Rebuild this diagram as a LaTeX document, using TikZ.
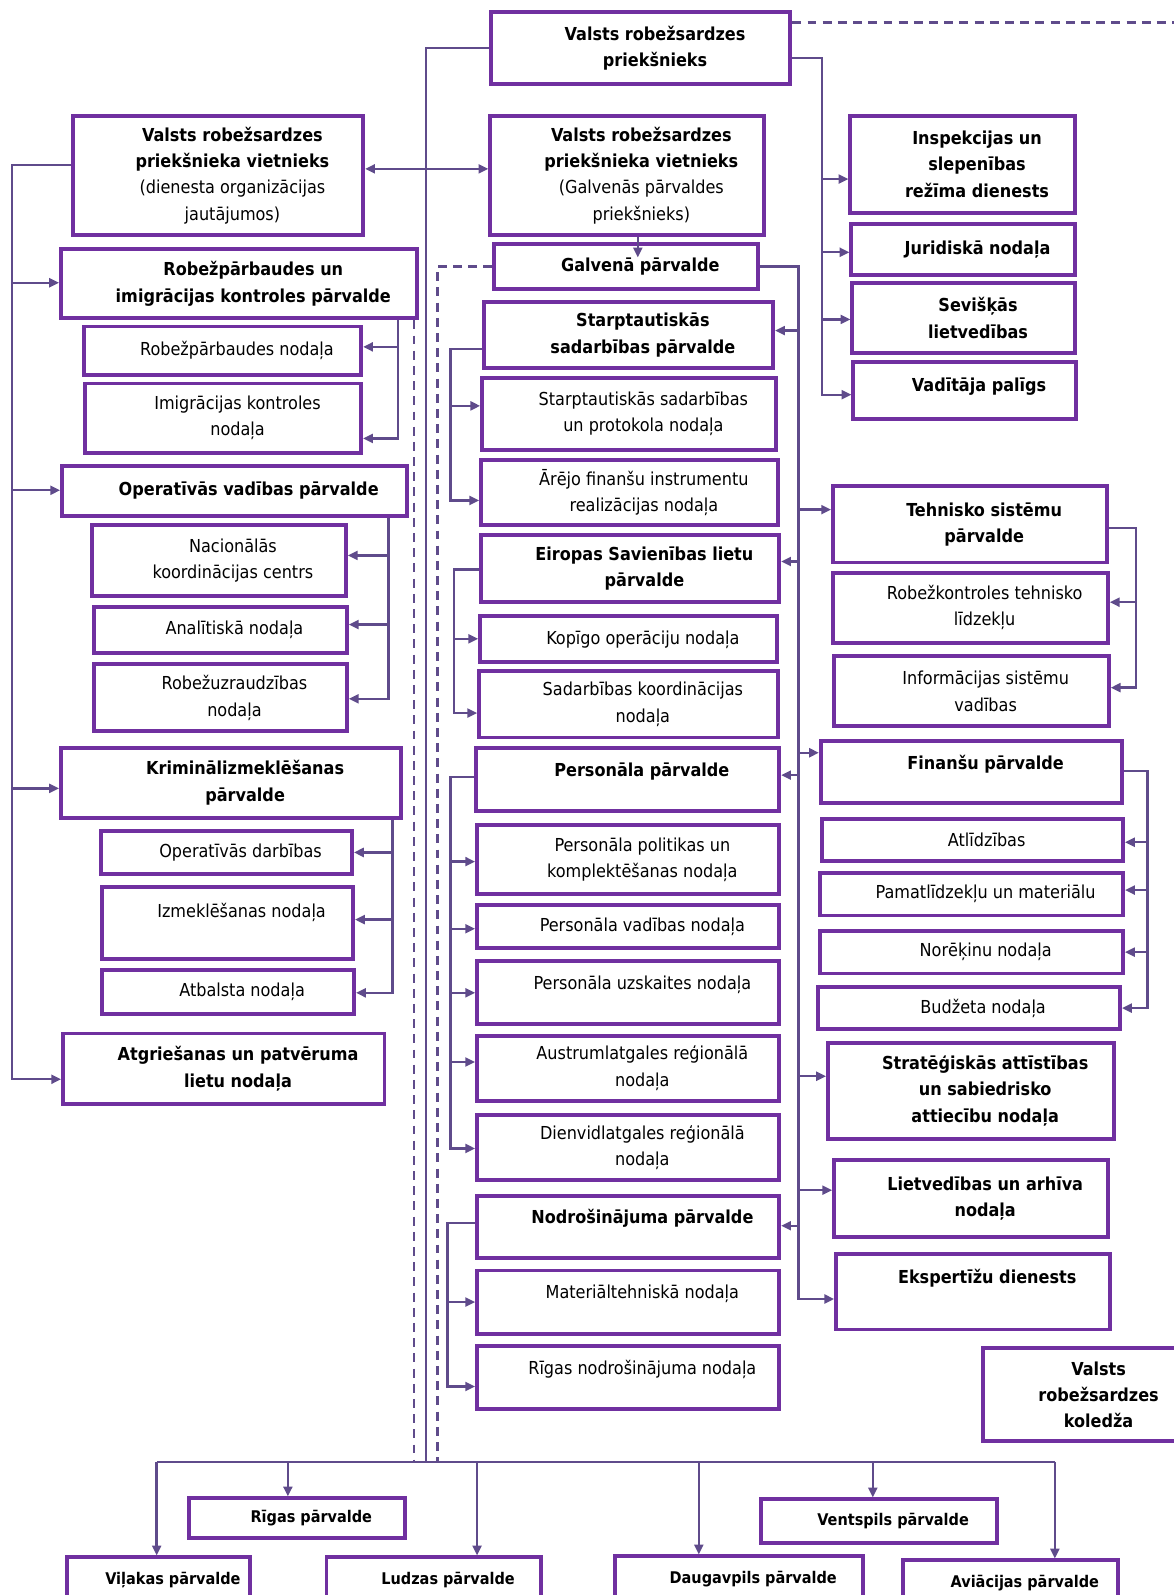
\documentclass[tikz,border=0pt]{standalone}
\usepackage{fontspec}
\setmainfont{DejaVu Sans Condensed}
\usetikzlibrary{arrows.meta,fit,calc}
\definecolor{boxpurple}{HTML}{7030A0}
\definecolor{linkpurple}{HTML}{5F4B8B}
\tikzset{
  unitbox/.style={draw=boxpurple, line width=2.2pt, fill=white, inner sep=0pt},
  unittext/.style={align=center, inner sep=0pt, font=\fontsize{10}{14.7}\selectfont},
  headtext/.style={unittext, font=\fontsize{10}{14.7}\selectfont\bfseries},
  citytext/.style={unittext, font=\fontsize{9}{13}\selectfont\bfseries},
  link/.style={linkpurple, line width=1.3pt},
  linkarrow/.style={link, -{Triangle[length=5.5pt,width=5pt]}},
  linkboth/.style={link, {Triangle[length=5.5pt,width=5pt]}-{Triangle[length=5.5pt,width=5pt]}},
  dashlink/.style={linkpurple, line width=1.3pt, dash pattern=on 5pt off 3.5pt}
}
% box from corner to corner, text a little right of the centre
\newcommand{\orgbox}[5][unittext]{%
  \node[unitbox, fit={#3 #4}] (#2) {};
  \node[#1] (#2-t) at ($(#2)+(14,0)$) {#5};}

\begin{document}
\begin{tikzpicture}[x=0.02cm,y=-0.02cm]
  \useasboundingbox (0,0) rectangle (1154,1568);
  \clip (0,0) rectangle (1154,1568);

  % top level
  \orgbox[headtext]{chief}{(483,12)}{(777,83)}{Valsts robežsardzes\\priekšnieks}
  \orgbox{vice1}{(72,114)}{(357,231)}{\textbf{Valsts robežsardzes}\\\textbf{priekšnieka vietnieks}\\(dienesta organizācijas\\jautājumos)}
  \orgbox{vice2}{(482,114)}{(751,231)}{\textbf{Valsts robežsardzes}\\\textbf{priekšnieka vietnieks}\\(Galvenās pārvaldes\\priekšnieks)}
  \orgbox[headtext]{main}{(486,240)}{(745,284)}{Galvenā pārvalde}

  % services under the chief
  \orgbox[headtext]{insp}{(836,114)}{(1057,209)}{Inspekcijas un\\slepenības\\režīma dienests}
  \orgbox[headtext]{jur}{(837,220)}{(1057,270)}{Juridiskā nodaļa}
  \orgbox[headtext]{sev}{(838,278)}{(1057,347)}{Sevišķās\\lietvedības}
  \orgbox[headtext]{vadp}{(839,356)}{(1058,412)}{Vadītāja palīgs\\[-8pt]\phantom{X}}

  % left column
  \orgbox[headtext]{rbp}{(60,245)}{(410,313)}{Robežpārbaudes un\\imigrācijas kontroles pārvalde}
  \orgbox{rbn}{(83,321)}{(355,369)}{Robežpārbaudes nodaļa}
  \orgbox{imn}{(84,377)}{(355,445)}{Imigrācijas kontroles\\nodaļa}
  \orgbox[headtext]{ovp}{(61,458)}{(400,507)}{Operatīvās vadības pārvalde}
  \orgbox{nkc}{(90,516)}{(340,586)}{Nacionālās\\koordinācijas centrs}
  \orgbox{ann}{(92,597)}{(341,642)}{Analītiskā nodaļa}
  \orgbox{ruz}{(92,653)}{(341,719)}{Robežuzraudzības\\nodaļa}
  \orgbox[headtext]{kip}{(60,735)}{(394,804)}{Kriminālizmeklēšanas\\pārvalde}
  \orgbox{opd}{(99,817)}{(346,859)}{Operatīvās darbības}
  \orgbox{izn}{(100,872)}{(347,943)}{Izmeklēšanas nodaļa\\\phantom{X}}
  \orgbox{atb}{(100,954)}{(348,997)}{Atbalsta nodaļa}
  \orgbox[headtext]{agr}{(62,1016)}{(378,1085)}{Atgriešanas un patvēruma\\lietu nodaļa}

  % middle column
  \orgbox[headtext]{sspv}{(476,297)}{(760,362)}{Starptautiskās\\sadarbības pārvalde}
  \orgbox{sspn}{(474,372)}{(763,442)}{Starptautiskās sadarbības\\un protokola nodaļa}
  \orgbox{afi}{(473,452)}{(765,516)}{Ārējo finanšu instrumentu\\realizācijas nodaļa}
  \orgbox[headtext]{esp}{(473,526)}{(766,592)}{Eiropas Savienības lietu\\pārvalde}
  \orgbox{kop}{(472,606)}{(764,651)}{Kopīgo operāciju nodaļa}
  \orgbox{sko}{(471,660)}{(765,725)}{Sadarbības koordinācijas\\nodaļa}
  \orgbox[headtext]{pers}{(468,735)}{(766,797)}{Personāla pārvalde\\[-4pt]\phantom{X}}
  \orgbox{ppk}{(469,811)}{(766,879)}{Personāla politikas un\\komplektēšanas nodaļa}
  \orgbox{pvn}{(469,890)}{(766,932)}{Personāla vadības nodaļa}
  \orgbox{puz}{(469,945)}{(766,1007)}{Personāla uzskaites nodaļa\\[-3.5pt]\phantom{X}}
  \orgbox{arn}{(469,1018)}{(766,1082)}{Austrumlatgales reģionālā\\nodaļa}
  \orgbox{drn}{(469,1096)}{(766,1160)}{Dienvidlatgales reģionālā\\nodaļa}
  \orgbox[headtext]{nodp}{(469,1176)}{(766,1237)}{Nodrošinājuma pārvalde\\[-3pt]\phantom{X}}
  \orgbox{mtn}{(469,1249)}{(766,1311)}{Materiāltehniskā nodaļa\\[-3.5pt]\phantom{X}}
  \orgbox{rnn}{(469,1323)}{(766,1385)}{Rīgas nodrošinājuma nodaļa\\[-3.5pt]\phantom{X}}

  % right column
  \orgbox[headtext]{tsp}{(819,478)}{(1088,553)}{Tehnisko sistēmu\\pārvalde}
  \orgbox{rtl}{(819,563)}{(1089,632)}{Robežkontroles tehnisko\\līdzekļu}
  \orgbox{isv}{(820,645)}{(1090,714)}{Informācijas sistēmu\\vadības}
  \orgbox[headtext]{fin}{(807,728)}{(1103,789)}{Finanšu pārvalde\\[-4pt]\phantom{X}}
  \orgbox{atl}{(808,805)}{(1104,846)}{Atlīdzības}
  \orgbox{pml}{(806,858)}{(1104,900)}{Pamatlīdzekļu un materiālu}
  \orgbox{nor}{(806,915)}{(1104,957)}{Norēķinu nodaļa}
  \orgbox{bud}{(804,970)}{(1101,1012)}{Budžeta nodaļa}
  \orgbox[headtext]{str}{(814,1025)}{(1095,1120)}{Stratēģiskās attīstības\\un sabiedrisko\\attiecību nodaļa}
  \orgbox[headtext]{lav}{(820,1140)}{(1089,1216)}{Lietvedības un arhīva\\nodaļa}
  \orgbox[headtext]{eks}{(822,1233)}{(1091,1307)}{Ekspertīžu dienests\\[3pt]\phantom{X}}
  \orgbox[headtext]{kol}{(966,1325)}{(1166,1417)}{Valsts\\robežsardzes\\koledža}

  % regional boards
  \orgbox[citytext]{rig}{(186,1473)}{(398,1512)}{Rīgas pārvalde}
  \orgbox[citytext]{ven}{(748,1474)}{(980,1517)}{Ventspils pārvalde}
  \orgbox[citytext]{vil}{(66,1531)}{(246,1575)}{Viļakas pārvalde}
  \orgbox[citytext]{lud}{(321,1531)}{(532,1575)}{Ludzas pārvalde}
  \orgbox[citytext]{dau}{(605,1530)}{(848,1574)}{Daugavpils pārvalde}
  \orgbox[citytext]{avi}{(888,1534)}{(1099,1578)}{Aviācijas pārvalde}

  % chief links
  \coordinate (dashend) at (1154,22);
  \draw[dashlink] (chief.east |- dashend) -- (dashend);
  \coordinate (midbus) at (419,1437);
  \draw[link] (chief.west) -| (midbus);
  \coordinate (chieftrunk) at (808,57);
  \draw[linkarrow] (chief.east |- chieftrunk) -| (chieftrunk |- 0,388) -- (vadp.west |- 0,388);
  \foreach \n/\yy in {insp/176, jur/248, sev/314}
    \draw[linkarrow] (chieftrunk |- 0,\yy) -- (\n.west |- 0,\yy);

  % deputies
  \draw[linkboth] (vice1.east |- 0,166) -- (vice2.west |- 0,166);
  \draw[linkarrow] (vice2.south -| 627,0) -- ($(main.north -| 627,0)+(0,15)$);

  % dashed links
  \coordinate (dashbus) at (430,1437);
  \draw[dashlink] (main.west) -| (dashbus);
  \coordinate (leftdash) at (407,1437);
  \draw[dashlink] (rbp.south -| leftdash) -- (leftdash);

  % main board trunk
  \coordinate (maintrunk) at (785,1277);
  \draw[linkarrow] (main.east) -| (maintrunk) -- (eks.west |- maintrunk);
  \foreach \n/\yy in {sspv/325, esp/552, pers/762, nodp/1205}
    \draw[linkarrow] (maintrunk |- 0,\yy) -- (\n.east |- 0,\yy);
  \foreach \n/\yy in {tsp/501, fin/740, str/1058, lav/1170}
    \draw[linkarrow] (maintrunk |- 0,\yy) -- (\n.west |- 0,\yy);

  % middle branches
  \coordinate (sbr) at (443,0);
  \draw[linkarrow] (sspv.west |- 0,343) -| (sbr |- 0,492) -- (afi.west |- 0,492);
  \draw[linkarrow] (sbr |- 0,399) -- (sspn.west |- 0,399);
  \coordinate (ebr) at (446,0);
  \draw[linkarrow] (esp.west |- 0,560) -| (ebr |- 0,701) -- (sko.west |- 0,701);
  \draw[linkarrow] (ebr |- 0,628) -- (kop.west |- 0,628);
  \coordinate (pbr) at (443,0);
  \draw[linkarrow] (pers.west |- 0,764) -| (pbr |- 0,1129) -- (drn.west |- 0,1129);
  \foreach \n/\yy in {ppk/847, pvn/913, puz/976, arn/1044}
    \draw[linkarrow] (pbr |- 0,\yy) -- (\n.west |- 0,\yy);
  \coordinate (nbr) at (440,0);
  \draw[linkarrow] (nodp.west |- 0,1202) -| (nbr |- 0,1363) -- (rnn.west |- 0,1363);
  \draw[linkarrow] (nbr |- 0,1280) -- (mtn.west |- 0,1280);

  % left trunk
  \coordinate (ltrunk) at (12,0);
  \draw[linkarrow] (vice1.west |- 0,162) -| (ltrunk |- 0,1061) -- (agr.west |- 0,1061);
  \foreach \n/\yy in {rbp/278, ovp/482, kip/775}
    \draw[linkarrow] (ltrunk |- 0,\yy) -- (\n.west |- 0,\yy);

  % left branches
  \coordinate (rbr) at (391,0);
  \draw[linkarrow] (rbp.south -| rbr) |- (imn.east |- 0,431);
  \draw[linkarrow] (rbr |- 0,341) -- (rbn.east |- 0,341);
  \coordinate (obr) at (382,0);
  \draw[linkarrow] (ovp.south -| obr) |- (ruz.east |- 0,687);
  \foreach \n/\yy in {nkc/546, ann/614}
    \draw[linkarrow] (obr |- 0,\yy) -- (\n.east |- 0,\yy);
  \coordinate (kbr) at (386,0);
  \draw[linkarrow] (kip.south -| kbr) |- (atb.east |- 0,976);
  \foreach \n/\yy in {opd/838, izn/904}
    \draw[linkarrow] (kbr |- 0,\yy) -- (\n.east |- 0,\yy);

  % right branches
  \coordinate (tbr) at (1117,0);
  \draw[linkarrow] (tsp.east |- 0,519) -| (tbr |- 0,676) -- (isv.east |- 0,676);
  \draw[linkarrow] (tbr |- 0,592) -- (rtl.east |- 0,592);
  \coordinate (fbr) at (1128,0);
  \draw[linkarrow] (fin.east |- 0,758) -| (fbr |- 0,991) -- (bud.east |- 0,991);
  \foreach \n/\yy in {atl/828, pml/875, nor/936}
    \draw[linkarrow] (fbr |- 0,\yy) -- (\n.east |- 0,\yy);

  % regional bus
  \coordinate (busL) at (154,1437);
  \coordinate (busR) at (1037,1437);
  \draw[link] (busL) -- (busR);
  \foreach \n/\xx in {vil/154, rig/283, lud/469, dau/687, ven/858, avi/1037}
    \draw[linkarrow] (\xx,1437) -- (\n.north -| \xx,0);
\end{tikzpicture}
\end{document}
